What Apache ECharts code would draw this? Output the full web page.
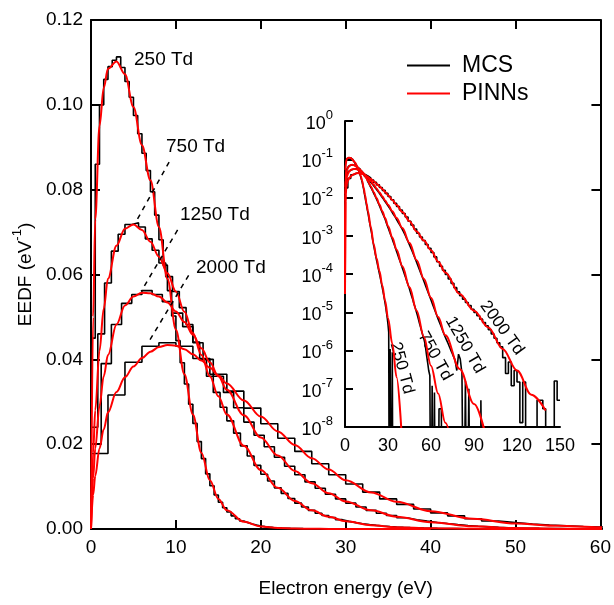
<!DOCTYPE html>
<html>
<head>
<meta charset="utf-8">
<script src="https://cdn.jsdelivr.net/npm/echarts@6/dist/echarts.min.js"></script>
<style>
  html, body { margin: 0; padding: 0; background: #fff; }
  #chart { width: 614px; height: 605px; }
</style>
</head>
<body>
<div id="chart"></div>
<script>
// energy grid (eV) for the PINNs curves
const energy = [0, 0.25, 0.5, 1, 1.5, 2, 3, 4, 5, 6, 7, 8, 9, 10, 11, 12, 13, 14, 15, 16, 18, 20, 22, 24, 26, 28, 30, 33, 36, 40, 45, 50, 55, 60, 65, 70, 80, 90, 100, 110, 120, 130, 140]

// PINNs EEDF (eV^-1) at the energies above
const pinn250 = [3e-5, 0.050, 0.073, 0.095, 0.104, 0.1085, 0.1102, 0.1072, 0.0995, 0.0905, 0.0822, 0.0712, 0.059, 0.047, 0.0365, 0.027, 0.018, 0.0115, 0.0071, 0.0044, 0.0017, 6e-4, 2.6e-4, 1.2e-4, 5e-5, 2e-5, 7e-6, 1.5e-6, 2e-7, 3e-9, null, null, null, null, null, null, null, null, null, null, null, null, null]
const pinn750 = [3e-5, 0.018, 0.028, 0.042, 0.052, 0.059, 0.0668, 0.0708, 0.0718, 0.0705, 0.0677, 0.0642, 0.0603, 0.056, 0.0512, 0.0462, 0.041, 0.036, 0.0313, 0.027, 0.0196, 0.0139, 0.0097, 0.0066, 0.0044, 0.0029, 0.0018, 9e-4, 4.3e-4, 1.6e-4, 4.5e-5, 1.1e-5, 2.3e-6, 4e-7, 7.5e-8, 1.3e-8, 1e-10, null, null, null, null, null, null]
const pinn1250 = [3e-5, 0.012, 0.019, 0.029, 0.036, 0.041, 0.0482, 0.0527, 0.0548, 0.0557, 0.0556, 0.0548, 0.0534, 0.0513, 0.0488, 0.0458, 0.0426, 0.0393, 0.036, 0.0328, 0.0268, 0.0216, 0.0173, 0.0137, 0.0108, 0.0084, 0.0065, 0.0044, 0.0029, 0.0016, 6.5e-4, 2.3e-4, 7.5e-5, 2.4e-5, 7.5e-6, 2.5e-6, 3.3e-7, 4e-8, 3e-9, null, null, null, null]
const pinn2000 = [3e-5, 0.008, 0.0125, 0.019, 0.0235, 0.0275, 0.0323, 0.0358, 0.0383, 0.0403, 0.0418, 0.0429, 0.0434, 0.0432, 0.0424, 0.0412, 0.0397, 0.038, 0.0362, 0.0343, 0.0303, 0.0265, 0.023, 0.0198, 0.0167, 0.014, 0.0115, 0.0086, 0.0064, 0.0042, 0.0024, 0.0013, 7.5e-4, 4.2e-4, 2.1e-4, 1.1e-4, 3e-5, 1.1e-5, 4e-6, 1.1e-6, 3e-7, 7e-8, 2.7e-8]

// MCS histograms: bin width (eV) and value per bin starting at 0 eV (1e-12 = empty bin)
const bin250 = 0.5
const mcs250 = [0.045, 0.086, 0.100, 0.106, 0.109, 0.1105, 0.1113, 0.1088, 0.1055, 0.1018,
  0.0975, 0.0932, 0.0886, 0.0845, 0.0795, 0.0740, 0.0682, 0.0622, 0.0562, 0.0502,
  0.0444, 0.0392, 0.0342, 0.0294, 0.0249, 0.0206, 0.0166, 0.0130, 0.0102, 0.0080,
  0.0063, 0.0050, 0.0040, 0.0031, 0.0024, 0.0019, 0.0015, 0.0012, 9.2e-4, 7.2e-4,
  5.6e-4, 4.5e-4, 3.6e-4, 2.9e-4, 2.3e-4, 1.9e-4, 1.55e-4, 1.27e-4, 1.03e-4, 8.4e-5,
  6.8e-5, 5.5e-5, 4.4e-5, 3.5e-5, 2.8e-5, 2.2e-5, 1.7e-5, 1.3e-5, 9.5e-6, 7e-6,
  4.8e-6, 3e-6, 1e-12, 1.1e-6, 1e-12, 1e-12, 9e-7, 1e-12]
const bin750 = 0.8
const mcs750 = [0.024, 0.046, 0.058, 0.0655, 0.0695, 0.0718, 0.0722, 0.0712, 0.0684, 0.0657,
  0.0627, 0.0595, 0.056, 0.0522, 0.0482, 0.0441, 0.040, 0.036, 0.0322, 0.0287,
  0.0255, 0.0226, 0.0196, 0.0172, 0.015, 0.0129, 0.0113, 0.0097, 0.0084, 0.0072,
  0.0061, 0.0052, 0.0044, 0.0037, 0.0032, 0.0027, 0.0022, 0.0018, 1.5e-3, 1.24e-3,
  1.03e-3, 8.6e-4, 7e-4, 5.8e-4, 4.7e-4, 3.9e-4, 3.2e-4, 2.6e-4, 2.15e-4, 1.77e-4,
  1.44e-4, 1.18e-4, 9.6e-5, 7.9e-5, 6.4e-5, 5.2e-5, 4.3e-5, 3.4e-5, 2.7e-5, 2.2e-5,
  1.7e-5, 1.4e-5, 1.1e-5, 8.6e-6, 6.6e-6, 5.1e-6, 4e-6, 3.1e-6, 2.4e-6, 1.9e-6,
  1.4e-6, 8e-7, 5e-7, 3e-7, 2.2e-7, 1e-12, 1.2e-7, 1e-12, 8e-8, 1e-12,
  1e-12, 1e-12, 3e-8, 3e-8, 3e-8, 1e-12]
const bin1250 = 1.2
const mcs1250 = [0.020, 0.039, 0.0482, 0.0532, 0.0553, 0.0562, 0.0553, 0.0536, 0.0509, 0.0477,
  0.0439, 0.040, 0.036, 0.0322, 0.0286, 0.0252, 0.0221, 0.0194, 0.0169, 0.0148,
  0.0128, 0.0111, 0.0096, 0.0082, 0.0071, 0.0061, 0.0052, 0.0044, 0.0037, 0.0032,
  0.00265, 0.0022, 0.00186, 0.00155, 1.28e-3, 1.03e-3, 8.2e-4, 6.5e-4, 5.1e-4, 4e-4,
  3.1e-4, 2.4e-4, 1.84e-4, 1.4e-4, 1.07e-4, 8.2e-5, 6.3e-5, 4.75e-5, 3.6e-5, 2.75e-5,
  2.1e-5, 1.58e-5, 1.2e-5, 9.1e-6, 6.9e-6, 5.3e-6, 4.1e-6, 3.1e-6, 2.4e-6, 1.9e-6,
  1.5e-6, 1.16e-6, 9.1e-7, 7.1e-7, 5.6e-7, 3e-7, 8e-7, 6e-7, 2.5e-7, 1e-12,
  1.6e-7, 1e-12, 1e-7, 1e-12, 1e-12, 1e-12, 1e-12, 1e-12, 1e-12, 5e-8, 1e-12]
const bin2000 = 2
const mcs2000 = [0.0178, 0.0316, 0.0393, 0.0431, 0.0439, 0.0431, 0.0402, 0.0365, 0.0325, 0.0285,
  0.0248, 0.0214, 0.0183, 0.0154, 0.0128, 0.0106, 0.0087, 0.0071, 0.0058, 0.0047,
  0.0038, 0.0031, 0.0024, 1.9e-3, 1.5e-3, 1.16e-3, 9.3e-4, 7.5e-4, 5.9e-4, 4.7e-4,
  3.65e-4, 2.8e-4, 2.1e-4, 1.6e-4, 1.25e-4, 9.7e-5, 7.4e-5, 5.7e-5, 4.4e-5, 3.4e-5,
  2.7e-5, 2.2e-5, 1.8e-5, 1.5e-5, 1.2e-5, 9.9e-6, 8.1e-6, 6.6e-6, 5.4e-6, 4.4e-6,
  3.5e-6, 2.7e-6, 2.1e-6, 1.6e-6, 1.25e-6, 6.5e-7, 2.5e-7, 5e-7, 1.2e-7, 3e-7,
  1.5e-7, 1.3e-8, 1.5e-7, 1e-12, 1e-12, 1e-12, 1e-12, 5e-8, 5e-8, 3e-8,
  1e-12, 1e-12, 1e-12, 1.6e-7, 5e-8]

// dashed leaders from the field labels to the curves (eV, eV^-1)
const lead750 = [[9.2, 0.0865], [5.4, 0.0728]]
const lead1250 = [[10.2, 0.0705], [5.9, 0.056]]
const lead2000 = [[11.5, 0.0598], [6.7, 0.0438]]

// axes / ticks
const mainX = { min: 0, max: 60, step: 10 }
const mainY = { min: 0, max: 0.12, step: 0.02 }
const insetX = { min: 0, max: 150, step: 30 }
const insetY = { min: 1e-8, max: 1 }

const FONT = "'Liberation Sans', Arial, sans-serif"
const RED = '#ff0000'

const curvePts = vals => energy.map((e, i) => [e, vals[i]]).filter(p => p[1] != null)
const histPts = (vals, w) => {
  const pts = vals.map((v, i) => [i * w, v])
  pts.push([vals.length * w, vals[vals.length - 1]])
  return pts
}

const hists = [[mcs250, bin250], [mcs750, bin750], [mcs1250, bin1250], [mcs2000, bin2000]]
const curves = [pinn250, pinn750, pinn1250, pinn2000]

const series = []
;[[0, 0], [2, 2]].forEach(([xi, yi]) => {
  hists.forEach(([vals, w]) => {
    series.push({
      name: 'MCS', type: 'line', step: 'end', xAxisIndex: xi, yAxisIndex: yi,
      data: histPts(vals, w), symbol: 'none', clip: true, z: 2,
      lineStyle: { color: '#000', width: 1.6 }, itemStyle: { color: '#000' }
    })
  })
  curves.forEach(vals => {
    series.push({
      name: 'PINNs', type: 'line', smooth: 0.35, smoothMonotone: 'x', xAxisIndex: xi, yAxisIndex: yi,
      data: curvePts(vals), symbol: 'none', clip: true, z: 3,
      lineStyle: { color: RED, width: 2 }, itemStyle: { color: RED }
    })
  })
})
;[lead750, lead1250, lead2000].forEach(d => {
  series.push({
    type: 'line', data: d, symbol: 'none', z: 4, silent: true,
    lineStyle: { color: '#000', width: 1.5, type: [5, 5] }
  })
})

const axisLine = { show: true, onZero: false, lineStyle: { color: '#000', width: 2 } }
const tickIn = { show: true, inside: true, length: 9, lineStyle: { color: '#000', width: 2 } }
const label19 = { color: '#000', fontSize: 19, fontFamily: FONT }

const chart = echarts.init(document.getElementById('chart'))
chart.setOption({
  animation: false,
  backgroundColor: '#fff',
  grid: [
    { left: 91, right: 13, top: 20, bottom: 76 },
    { left: 345, top: 121, width: 215, height: 306 }
  ],
  legend: {
    data: ['MCS', 'PINNs'], orient: 'vertical', left: 402, top: 49,
    icon: 'rect', itemWidth: 43, itemHeight: 2, itemGap: 5, selectedMode: false,
    textStyle: { color: '#000', fontSize: 23, fontFamily: FONT, lineHeight: 23, padding: [0, 0, 0, 7] }
  },
  xAxis: [
    {
      gridIndex: 0, type: 'value', min: mainX.min, max: mainX.max, interval: mainX.step,
      axisLine, axisTick: tickIn, splitLine: { show: false },
      axisLabel: { ...label19, margin: 9 },
      name: 'Electron energy (eV)', nameLocation: 'middle', nameGap: 50,
      nameTextStyle: { color: '#000', fontSize: 19, fontFamily: FONT }
    },
    {
      gridIndex: 0, type: 'value', position: 'top', min: mainX.min, max: mainX.max, interval: mainX.step,
      axisLine, axisTick: tickIn, axisLabel: { show: false }, splitLine: { show: false }
    },
    {
      gridIndex: 1, type: 'value', min: insetX.min, max: insetX.max, interval: insetX.step,
      axisLine, axisTick: { show: false }, splitLine: { show: false },
      axisLabel: { color: '#000', fontSize: 18, fontFamily: FONT, margin: 10 }
    }
  ],
  yAxis: [
    {
      gridIndex: 0, type: 'value', min: mainY.min, max: mainY.max, interval: mainY.step,
      axisLine, axisTick: tickIn, splitLine: { show: false },
      axisLabel: { ...label19, margin: 8, formatter: v => v.toFixed(2) },
      name: '{a|EEDF (eV}{s|-1}{a|)}', nameLocation: 'middle', nameGap: 50, nameRotate: 90,
      nameTextStyle: {
        rich: {
          a: { color: '#000', fontSize: 19, fontFamily: FONT, lineHeight: 24, verticalAlign: 'bottom' },
          s: { color: '#000', fontSize: 13, fontFamily: FONT, lineHeight: 14, verticalAlign: 'top' }
        }
      }
    },
    {
      gridIndex: 0, type: 'value', position: 'right', min: mainY.min, max: mainY.max, interval: mainY.step,
      axisLine, axisTick: tickIn, axisLabel: { show: false }, splitLine: { show: false }
    },
    {
      gridIndex: 1, type: 'log', logBase: 10, min: insetY.min, max: insetY.max, splitNumber: 8,
      axisLine, axisTick: { show: true, inside: true, length: 8, lineStyle: { color: '#000', width: 2 } },
      splitLine: { show: false }, minorTick: { show: false },
      axisLabel: {
        margin: 12,
        formatter: v => '{b|10}{s|' + Math.round(Math.log10(v)) + '}',
        rich: {
          b: { color: '#000', fontSize: 18, fontFamily: FONT, lineHeight: 24, verticalAlign: 'bottom' },
          s: { color: '#000', fontSize: 13, fontFamily: FONT, lineHeight: 14, verticalAlign: 'top' }
        }
      }
    }
  ],
  graphic: [
    { type: 'text', x: 134, y: 60, style: { text: '250 Td', font: '19px ' + FONT, fill: '#000', verticalAlign: 'middle', textVerticalAlign: 'middle' } },
    { type: 'text', x: 166, y: 147, style: { text: '750 Td', font: '19px ' + FONT, fill: '#000', verticalAlign: 'middle', textVerticalAlign: 'middle' } },
    { type: 'text', x: 180, y: 215, style: { text: '1250 Td', font: '19px ' + FONT, fill: '#000', verticalAlign: 'middle', textVerticalAlign: 'middle' } },
    { type: 'text', x: 196, y: 268, style: { text: '2000 Td', font: '19px ' + FONT, fill: '#000', verticalAlign: 'middle', textVerticalAlign: 'middle' } },
    { type: 'text', x: 402, y: 368, rotation: -75 * Math.PI / 180, style: { text: '250 Td', font: '17px ' + FONT, fill: '#000', align: 'center', textAlign: 'center', verticalAlign: 'middle', textVerticalAlign: 'middle' } },
    { type: 'text', x: 435, y: 356, rotation: -61 * Math.PI / 180, style: { text: '750 Td', font: '17px ' + FONT, fill: '#000', align: 'center', textAlign: 'center', verticalAlign: 'middle', textVerticalAlign: 'middle' } },
    { type: 'text', x: 465, y: 345, rotation: -60 * Math.PI / 180, style: { text: '1250 Td', font: '17px ' + FONT, fill: '#000', align: 'center', textAlign: 'center', verticalAlign: 'middle', textVerticalAlign: 'middle' } },
    { type: 'text', x: 502, y: 328, rotation: -54 * Math.PI / 180, style: { text: '2000 Td', font: '17px ' + FONT, fill: '#000', align: 'center', textAlign: 'center', verticalAlign: 'middle', textVerticalAlign: 'middle' } }
  ],
  series
})
</script>
</body>
</html>
